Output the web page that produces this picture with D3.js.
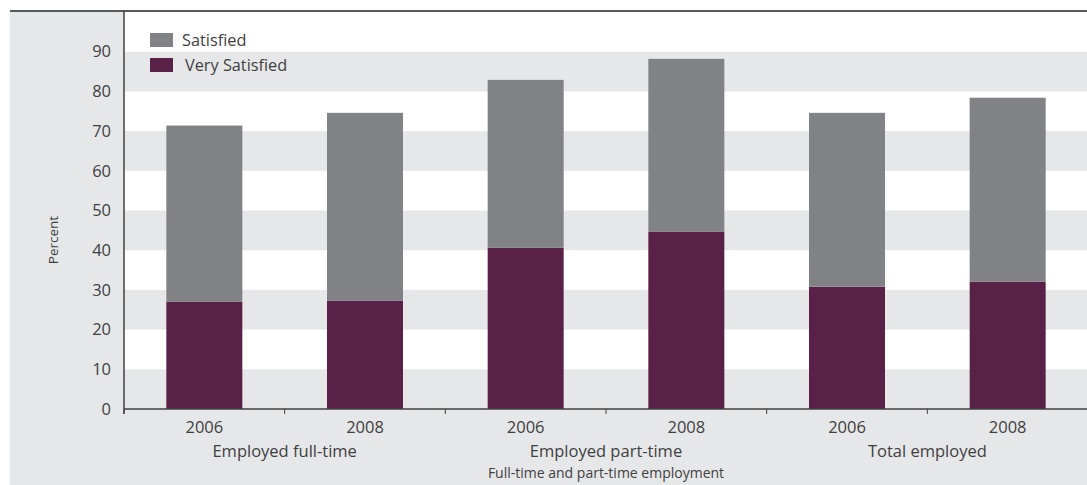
<!DOCTYPE html>
<html>
<head>
<meta charset="utf-8">
<script src="https://cdn.jsdelivr.net/npm/d3@7"></script>
<style>
  html, body { margin: 0; padding: 0; background: #fff; }
  svg { display: block; font-family: "Open Sans", "Noto Sans", sans-serif; }
</style>
</head>
<body>
<svg id="chart" width="1087" height="485"></svg>
<script>
// Job satisfaction by employment type, 2006 and 2008 (percent)
const groups = ["Employed full-time", "Employed part-time", "Total employed"];
const years = ["2006", "2008"];
const barKeys = ["FT-2006", "FT-2008", "PT-2006", "PT-2008", "TE-2006", "TE-2008"];
const verySatisfied = [27.0, 27.3, 40.6, 44.7, 30.8, 32.1];
const satisfied = [44.4, 47.3, 42.3, 43.5, 43.8, 46.3];
const yTicks = [0, 10, 20, 30, 40, 50, 60, 70, 80, 90];
const seriesNames = ["Satisfied", "Very Satisfied"];
const seriesColors = { "Satisfied": "#818286", "Very Satisfied": "#5a2148" };

const svg = d3.select("#chart");
const W = 1087, H = 485;
const plot = { left: 124, right: 1088, top: 12, bottom: 409 };
const panelFill = "#e6e7e8";
const inkDark = "#404041";
const labelSize = 16.5;

// Table used by the stack layout
const rows = barKeys.map((c, i) => ({
  key: c,
  group: groups[Math.floor(i / 2)],
  year: years[i % 2],
  "Very Satisfied": verySatisfied[i],
  "Satisfied": satisfied[i]
}));

const x = d3.scaleBand()
  .domain(barKeys)
  .range([plot.left, plot.right])
  .paddingInner(0.527)
  .paddingOuter(0.2635);

const xGroup = d3.scaleBand()
  .domain(groups)
  .range([plot.left, plot.right]);

const y = d3.scaleLinear().domain([0, 100]).range([plot.bottom, plot.top]);

// Grey frame around the plot (left and bottom margins)
svg.append("rect")
  .attr("x", 10).attr("y", 11)
  .attr("width", W - 10).attr("height", H - 11)
  .attr("fill", panelFill);

// White plot area with alternating grey bands
svg.append("rect")
  .attr("x", plot.left).attr("y", y(100))
  .attr("width", plot.right - plot.left).attr("height", y(0) - y(100))
  .attr("fill", "#fff");

const bandStarts = d3.range(0, 100, 10).filter(v => (v / 10) % 2 === 0);
svg.append("g").selectAll("rect")
  .data(bandStarts)
  .join("rect")
  .attr("x", plot.left)
  .attr("y", d => y(d + 10))
  .attr("width", plot.right - plot.left)
  .attr("height", d => y(d) - y(d + 10))
  .attr("fill", panelFill);

// Stacked bars: very satisfied at the base, satisfied on top
const stack = d3.stack().keys(["Very Satisfied", "Satisfied"]);
const layers = stack(rows);

svg.append("g").selectAll("g")
  .data(layers)
  .join("g")
  .attr("fill", d => seriesColors[d.key])
  .selectAll("rect")
  .data(d => d)
  .join("rect")
  .attr("x", d => x(d.data.key))
  .attr("y", d => y(d[1]))
  .attr("width", x.bandwidth())
  .attr("height", d => y(d[0]) - y(d[1]));

// Top rule
svg.append("line")
  .attr("x1", 10).attr("x2", W)
  .attr("y1", 11).attr("y2", 11)
  .attr("stroke", "#58595b").attr("stroke-width", 2);

// Y axis
const yAxis = svg.append("g")
  .attr("transform", `translate(${plot.left},0)`)
  .call(d3.axisLeft(y).tickValues(yTicks).tickSize(0).tickPadding(13).tickFormat(d3.format("d")));
yAxis.select(".domain").remove();
yAxis.selectAll("text")
  .attr("font-size", labelSize)
  .attr("fill", inkDark)
  .attr("font-family", "\"Open Sans\", sans-serif");

svg.append("line")
  .attr("x1", plot.left).attr("x2", plot.left)
  .attr("y1", 11).attr("y2", plot.bottom + 5)
  .attr("stroke", inkDark).attr("stroke-width", 1.5);

// X axis: year labels under each bar
const xAxis = svg.append("g")
  .attr("transform", `translate(0,${plot.bottom})`)
  .call(d3.axisBottom(x).tickSize(0).tickPadding(12).tickFormat((d, i) => rows[i].year));
xAxis.select(".domain").remove();
xAxis.selectAll("text")
  .attr("font-size", labelSize)
  .attr("fill", inkDark)
  .attr("font-family", "\"Open Sans\", sans-serif");

svg.append("line")
  .attr("x1", plot.left).attr("x2", W)
  .attr("y1", plot.bottom).attr("y2", plot.bottom)
  .attr("stroke", inkDark).attr("stroke-width", 1.5);

// Separator ticks between bars
const sepPositions = barKeys.map(c => x(c) - (x.step() - x.bandwidth()) / 2);
svg.append("g").selectAll("line")
  .data(sepPositions)
  .join("line")
  .attr("x1", d => d).attr("x2", d => d)
  .attr("y1", plot.bottom).attr("y2", plot.bottom + 5)
  .attr("stroke", inkDark).attr("stroke-width", 1);

// Group labels
svg.append("g").selectAll("text")
  .data(groups)
  .join("text")
  .attr("x", d => xGroup(d) + xGroup.bandwidth() / 2)
  .attr("y", 457)
  .attr("text-anchor", "middle")
  .attr("font-size", labelSize)
  .attr("fill", inkDark)
  .text(d => d);

// Axis titles
svg.append("text")
  .attr("x", (plot.left + plot.right) / 2)
  .attr("y", 478)
  .attr("text-anchor", "middle")
  .attr("font-size", 14)
  .attr("fill", inkDark)
  .text("Full-time and part-time employment");

svg.append("text")
  .attr("transform", "translate(58,240) rotate(-90)")
  .attr("text-anchor", "middle")
  .attr("font-size", 13.5)
  .attr("fill", inkDark)
  .text("Percent");

// Legend
const legend = svg.append("g").selectAll("g")
  .data(seriesNames)
  .join("g")
  .attr("transform", (d, i) => `translate(150,${33 + i * 25})`);
legend.append("rect")
  .attr("width", 23).attr("height", 14)
  .attr("fill", d => seriesColors[d]);
legend.append("text")
  .attr("x", (d, i) => 32 + i * 3)
  .attr("y", 13)
  .attr("font-size", 16.3)
  .attr("fill", inkDark)
  .text(d => d);
</script>
</body>
</html>
